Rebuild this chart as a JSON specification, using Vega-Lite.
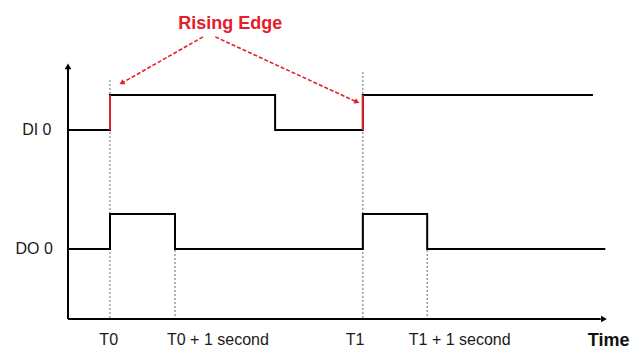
{
  "$schema": "https://vega.github.io/schema/vega-lite/v6.json",
  "width": 632,
  "height": 349,
  "padding": 0,
  "autosize": {"type": "none"},
  "background": "white",
  "config": {"view": {"stroke": null}, "font": "Liberation Sans"},
  "datasets": {
    "signals": [
      {"sig": "DI 0", "t": 0.354, "v": 4.4},
      {"sig": "DI 0", "t": 1.0, "v": 5.4},
      {"sig": "DI 0", "t": 3.54, "v": 4.4},
      {"sig": "DI 0", "t": 4.89, "v": 5.4},
      {"sig": "DI 0", "t": 8.43, "v": 5.4},
      {"sig": "DO 0", "t": 0.354, "v": 1.0},
      {"sig": "DO 0", "t": 1.0, "v": 2.0},
      {"sig": "DO 0", "t": 2.0, "v": 1.0},
      {"sig": "DO 0", "t": 4.89, "v": 2.0},
      {"sig": "DO 0", "t": 5.88, "v": 1.0},
      {"sig": "DO 0", "t": 8.62, "v": 1.0}
    ],
    "edges": [
      {"t": 1.0, "v": 4.4, "v2": 5.4},
      {"t": 4.89, "v": 4.4, "v2": 5.4}
    ],
    "guides": [
      {"t": 1.0, "v": 5.83, "v2": -1.0},
      {"t": 2.0, "v": 2.0, "v2": -1.0},
      {"t": 4.89, "v": 6.06, "v2": -1.0},
      {"t": 5.88, "v": 2.0, "v2": -1.0}
    ],
    "axes": [
      {"t": 0.354, "v": -1.0, "t2": 0.354, "v2": 6.15},
      {"t": 0.354, "v": -1.0, "t2": 8.55, "v2": -1.0}
    ],
    "arrows": [
      {"id": "a", "t": 2.43, "v": 7.06, "t2": 1.18, "v2": 5.74},
      {"id": "b", "t": 2.62, "v": 7.06, "t2": 4.80, "v2": 5.2}
    ],
    "ylabels": [
      {"label": "DI 0", "t": 0.1, "v": 4.4},
      {"label": "DO 0", "t": 0.12, "v": 1.0}
    ],
    "xlabels": [
      {"label": "T0", "t": 0.98, "v": -1.6},
      {"label": "T0 + 1 second", "t": 2.66, "v": -1.6},
      {"label": "T1", "t": 4.77, "v": -1.6},
      {"label": "T1 + 1 second", "t": 6.38, "v": -1.6}
    ]
  },
  "encoding": {
    "x": {"field": "t", "type": "quantitative", "axis": null, "scale": {"domain": [-0.6923, 9.0308], "nice": false, "zero": false}},
    "y": {"field": "v", "type": "quantitative", "axis": null, "scale": {"domain": [-1.857, 8.114], "nice": false, "zero": false}}
  },
  "layer": [
    {
      "data": {"name": "guides"},
      "mark": {"type": "rule", "color": "#666666", "strokeWidth": 1, "strokeDash": [2, 2]},
      "encoding": {"y2": {"field": "v2"}}
    },
    {
      "data": {"name": "axes"},
      "mark": {"type": "rule", "color": "black", "strokeWidth": 2},
      "encoding": {"x2": {"field": "t2"}, "y2": {"field": "v2"}}
    },
    {
      "data": {"values": [{"t": 0.354, "v": 6.22}]},
      "mark": {"type": "point", "shape": "triangle-up", "filled": true, "color": "black", "size": 45, "opacity": 1}
    },
    {
      "data": {"values": [{"t": 8.6, "v": -1.0}]},
      "mark": {"type": "point", "shape": "triangle-right", "filled": true, "color": "black", "size": 45, "opacity": 1}
    },
    {
      "data": {"name": "signals"},
      "mark": {"type": "line", "interpolate": "step-after", "color": "black", "strokeWidth": 2},
      "encoding": {"detail": {"field": "sig"}}
    },
    {
      "data": {"name": "edges"},
      "mark": {"type": "rule", "color": "#e3202a", "strokeWidth": 2},
      "encoding": {"y2": {"field": "v2"}}
    },
    {
      "data": {"name": "arrows"},
      "mark": {"type": "rule", "color": "#e3202a", "strokeWidth": 1.6, "strokeDash": [4, 2]},
      "encoding": {"x2": {"field": "t2"}, "y2": {"field": "v2"}}
    },
    {
      "data": {"name": "arrows"},
      "transform": [{"filter": "datum.id == 'a'"}],
      "mark": {"type": "point", "shape": "triangle-up", "filled": true, "color": "#e3202a", "size": 35, "opacity": 1, "angle": 240},
      "encoding": {"x": {"field": "t2", "type": "quantitative"}, "y": {"field": "v2", "type": "quantitative"}}
    },
    {
      "data": {"name": "arrows"},
      "transform": [{"filter": "datum.id == 'b'"}],
      "mark": {"type": "point", "shape": "triangle-up", "filled": true, "color": "#e3202a", "size": 35, "opacity": 1, "angle": 115},
      "encoding": {"x": {"field": "t2", "type": "quantitative"}, "y": {"field": "v2", "type": "quantitative"}}
    },
    {
      "data": {"name": "ylabels"},
      "mark": {"type": "text", "align": "right", "baseline": "middle", "fontSize": 16, "color": "#1a1a1a"},
      "encoding": {"text": {"field": "label"}}
    },
    {
      "data": {"name": "xlabels"},
      "mark": {"type": "text", "align": "center", "baseline": "middle", "fontSize": 16, "color": "#1a1a1a"},
      "encoding": {"text": {"field": "label"}}
    },
    {
      "data": {"values": [{"label": "Time", "t": 8.35, "v": -1.62}]},
      "mark": {"type": "text", "align": "left", "baseline": "middle", "fontSize": 18, "fontWeight": "bold", "color": "#111111"},
      "encoding": {"text": {"field": "label"}}
    },
    {
      "data": {"values": [{"label": "Rising Edge", "t": 2.85, "v": 7.43}]},
      "mark": {"type": "text", "align": "center", "baseline": "middle", "fontSize": 18, "fontWeight": "bold", "color": "#e3202a"},
      "encoding": {"text": {"field": "label"}}
    }
  ]
}
